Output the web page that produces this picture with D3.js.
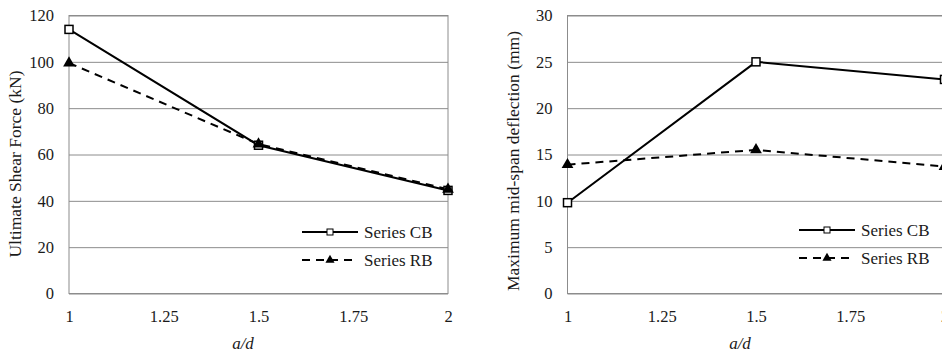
<!DOCTYPE html>
<html>
<head>
    <script src="https://d3js.org/d3.v7.min.js"></script>
    <style>
        body { margin: 0; background: white; }
        .grid line { stroke: #8c8c8c; stroke-width: 1px; }
        .frame { fill: none; stroke: #8c8c8c; stroke-width: 1px; }
    </style>
</head>
<body>
    <script>
        // a/d values
        const ratios = [1, 1.5, 2];
        const xTicks = [1, 1.25, 1.5, 1.75, 2];

        // ultimate shear force (kN)
        const shearCB = [114, 64, 44.5];
        const shearRB = [99.5, 64.5, 45];
        const shearTicks = [0, 20, 40, 60, 80, 100, 120];

        // maximum mid-span deflection (mm)
        const deflCB = [9.8, 25, 23.1];
        const deflRB = [13.9, 15.5, 13.7];
        const deflTicks = [0, 5, 10, 15, 20, 25, 30];

        const width = 942, height = 351;
        const serif = '"Liberation Serif"';

        const svg = d3.select('body').append('svg')
            .attr('width', width)
            .attr('height', height);

        function drawChart(opt) {
            const x = d3.scaleLinear().domain([1, 2]).range([opt.left, opt.right]);
            const y = d3.scaleLinear().domain([0, opt.ymax]).range([293.5, 15.5]);
            const g = svg.append('g');

            // gridlines + y labels
            g.append('g')
                .attr('class', 'grid')
                .attr('transform', `translate(${opt.left},0)`)
                .call(d3.axisLeft(y).tickValues(opt.yTicks).tickSize(-(opt.right - opt.left)).tickPadding(15).tickFormat(d3.format('d')))
                .call(a => a.select('.domain').remove());

            g.append('rect')
                .attr('class', 'frame')
                .attr('x', opt.left).attr('y', y(opt.ymax))
                .attr('width', opt.right - opt.left).attr('height', y(0) - y(opt.ymax));

            // x labels
            g.append('g')
                .attr('transform', 'translate(0,293.5)')
                .call(d3.axisBottom(x).tickValues(xTicks).tickSize(0).tickPadding(16.5).tickFormat(d => String(d)))
                .call(a => a.select('.domain').remove());

            g.selectAll('.tick text').style('font-size', '16.5px');

            g.append('text')
                .attr('transform', `translate(${opt.titleX},${opt.titleY}) rotate(-90)`)
                .attr('text-anchor', 'middle')
                .style('font-size', '17.5px')
                .text(opt.title);

            g.append('text')
                .attr('x', opt.xlabX).attr('y', 348.5)
                .attr('text-anchor', 'middle')
                .style('font-size', '17px')
                .style('font-style', 'italic')
                .text('a/d');

            const line = d3.line().x((d, i) => x(ratios[i])).y(d => y(d));

            g.append('path')
                .datum(opt.cb)
                .attr('d', line)
                .attr('fill', 'none').attr('stroke', '#000').attr('stroke-width', 2);

            g.append('path')
                .datum(opt.rb)
                .attr('d', line)
                .attr('fill', 'none').attr('stroke', '#000').attr('stroke-width', 2)
                .attr('stroke-dasharray', '8,6');

            g.selectAll('.cbm')
                .data(opt.cb)
                .enter().append('rect')
                .attr('x', (d, i) => x(ratios[i]) - 4)
                .attr('y', d => y(d) - 4)
                .attr('width', 8).attr('height', 8)
                .attr('fill', 'white').attr('stroke', '#000').attr('stroke-width', 1.5);

            const tri = d3.symbol().type(d3.symbolTriangle).size(60);
            g.selectAll('.rbm')
                .data(opt.rb)
                .enter().append('path')
                .attr('d', tri)
                .attr('transform', (d, i) => `translate(${x(ratios[i])},${y(d)})`)
                .attr('fill', '#000');

            // legend
            const lx = opt.legX, lw = 56;
            const legend = [
                { name: 'Series CB', y: opt.legY, dash: null, marker: 'square' },
                { name: 'Series RB', y: opt.legY + 28, dash: '8,6', marker: 'tri' }
            ];
            legend.forEach(l => {
                g.append('line')
                    .attr('x1', lx).attr('x2', lx + lw)
                    .attr('y1', l.y).attr('y2', l.y)
                    .attr('stroke', '#000').attr('stroke-width', 2)
                    .attr('stroke-dasharray', l.dash);
                if (l.marker === 'square') {
                    g.append('rect')
                        .attr('x', lx + lw / 2 - 3).attr('y', l.y - 3)
                        .attr('width', 6).attr('height', 6)
                        .attr('fill', 'white').attr('stroke', '#000').attr('stroke-width', 1);
                } else {
                    g.append('path')
                        .attr('d', d3.symbol().type(d3.symbolTriangle).size(36))
                        .attr('transform', `translate(${lx + lw / 2},${l.y})`)
                        .attr('fill', '#000');
                }
                g.append('text')
                    .attr('x', lx + lw + 6).attr('y', l.y)
                    .attr('dy', '0.35em')
                    .style('font-size', '17px')
                    .text(l.name);
            });
        }

        drawChart({
            left: 69, right: 448, ymax: 120, yTicks: shearTicks,
            cb: shearCB, rb: shearRB,
            title: 'Ultimate Shear Force (kN)', titleX: 21, titleY: 164,
            xlabX: 243, legX: 302, legY: 232
        });

        drawChart({
            left: 567.5, right: 944.5, ymax: 30, yTicks: deflTicks,
            cb: deflCB, rb: deflRB,
            title: 'Maximum mid-span deflection (mm)', titleX: 519, titleY: 161,
            xlabX: 740, legX: 799, legY: 230
        });

        // serif everywhere, also over the axis defaults
        svg.selectAll('g').attr('font-family', null);
        svg.selectAll('text').style('font-family', serif).style('fill', '#1a1a1a');
    </script>
</body>
</html>
